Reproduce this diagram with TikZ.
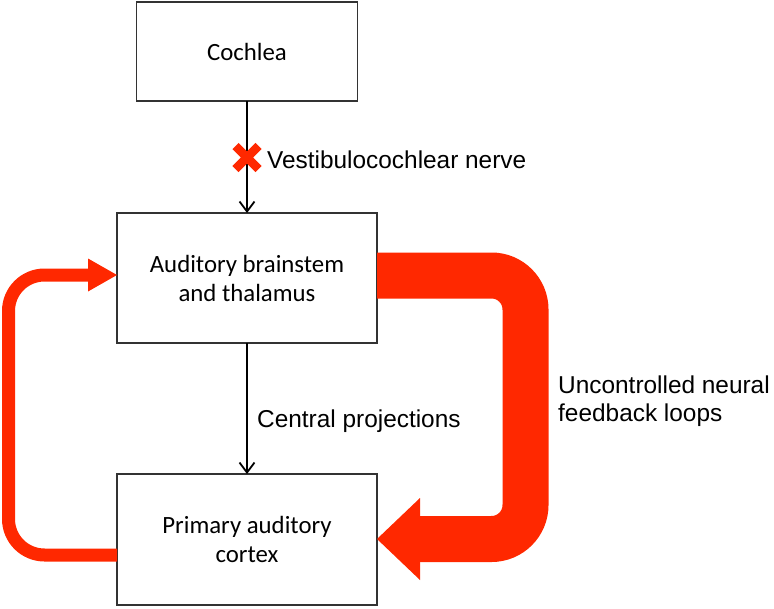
\documentclass[tikz,border=0pt]{standalone}
\usepackage{fontspec}
\setmainfont{Carlito}
\newfontfamily\arialfont{Liberation Sans}
\usetikzlibrary{arrows.meta,shapes.misc}
\definecolor{fbred}{RGB}{255,40,0}

\begin{document}
\begin{tikzpicture}[x=1pt,y=-1pt,
    box/.style={draw=black!80, line width=1.3pt, fill=white, align=center,
      inner sep=0pt, outer sep=0pt, font=\fontsize{24.8}{29}\selectfont},
    lbl/.style={font=\arialfont\fontsize{24.4}{28.5}\selectfont, inner sep=0pt, align=left},
    flow/.style={line width=1.8pt, -{Straight Barb[length=10pt,width=15pt]}}]
  \useasboundingbox (0,0) rectangle (774,608);
  \node[box, minimum width=221pt, minimum height=99pt] (cochlea) at (247,51.5) {Cochlea};
  \node[box, minimum width=260pt, minimum height=130pt] (brainstem) at (247,278) {Auditory brainstem\\and thalamus};
  \node[box, minimum width=260pt, minimum height=131pt] (cortex) at (247,539.5) {Primary auditory\\cortex};
  %
  \draw[flow] (cochlea) -- (brainstem);
  \draw[flow] (brainstem) -- (cortex);
  \node[cross out, draw=fbred, line width=8.5pt, minimum size=23pt, inner sep=0pt, outer sep=0pt] (cut) at (247,157.5) {};
  \node[lbl, anchor=base west] (nerve) at (267,168) {Vestibulocochlear nerve};
  \node[lbl, anchor=base west] (proj) at (257,427) {Central projections};
  \node[lbl, anchor=base west] (loops) at (558,421.5) {Uncontrolled neural\\feedback loops};
  %
  \draw[fbred, line width=13pt, rounded corners=36pt, -{Triangle[length=29pt,width=33pt,line width=0pt]}]
    (cortex.west |- 0,555) -| (8.5,275) -- (brainstem.west |- 0,275);
  \draw[fbred, line width=46pt, rounded corners=34pt, -{Triangle[length=43pt,width=82pt,line width=0pt]}]
    (brainstem.east |- 0,275.5) -| (525.5,539) -- (cortex.east |- 0,539);
\end{tikzpicture}
\end{document}
